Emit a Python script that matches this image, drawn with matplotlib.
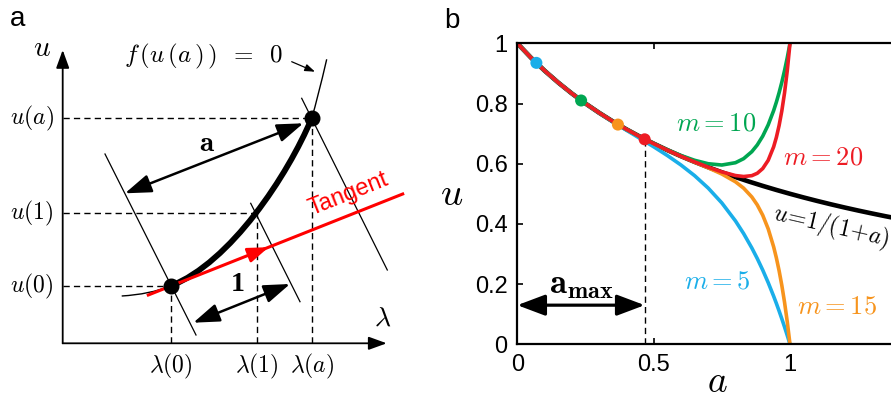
import matplotlib
matplotlib.use("Agg")
import matplotlib.pyplot as plt
from matplotlib.path import Path
from matplotlib.patches import PathPatch

plt.rcParams["font.family"] = ["Liberation Sans", "DejaVu Sans"]
plt.rcParams["mathtext.fontset"] = "cm"

# ---------- panel b data ----------
a_grid = [0.0, 0.05, 0.1, 0.15, 0.2, 0.25, 0.3, 0.35, 0.4, 0.45, 0.5, 0.55,
          0.6, 0.65, 0.7, 0.75, 0.8, 0.83, 0.86, 0.88, 0.9, 0.92, 0.94,
          0.95, 0.96, 0.97, 0.98, 0.99, 1.0]
u_m5 = [1.0, 0.9524, 0.9091, 0.8696, 0.8333, 0.7998, 0.7687, 0.7394, 0.7114,
        0.6839, 0.6563, 0.6273, 0.5958, 0.5604, 0.5190, 0.4697, 0.4099,
        0.3678, 0.3201, 0.2849, 0.2466, 0.2050, 0.1599, 0.1359, 0.1108,
        0.0848, 0.0577, 0.0294, 0.0]
u_m10 = [1.0, 0.9524, 0.9091, 0.8696, 0.8333, 0.8, 0.7692, 0.7407, 0.7143,
         0.6898, 0.6670, 0.6461, 0.6273, 0.6114, 0.5999, 0.5956, 0.6033,
         0.6168, 0.6400, 0.6623, 0.6915, 0.7290, 0.7764, 0.8045, 0.8358,
         0.8707, 0.9095, 0.9524, 1.0]
u_m15 = [1.0, 0.9524, 0.9091, 0.8696, 0.8333, 0.8, 0.7692, 0.7407, 0.7143,
         0.6897, 0.6667, 0.6451, 0.6248, 0.6054, 0.5863, 0.5657, 0.5399,
         0.5187, 0.4895, 0.4631, 0.4288, 0.3837, 0.3239, 0.2871, 0.2447,
         0.1958, 0.1395, 0.0746, 0.0]
u_m20 = [1.0, 0.9524, 0.9091, 0.8696, 0.8333, 0.8, 0.7692, 0.7407, 0.7143,
         0.6897, 0.6667, 0.6452, 0.6250, 0.6061, 0.5886, 0.5728, 0.5607,
         0.5574, 0.5603, 0.5682, 0.5839, 0.6112, 0.6560, 0.6875, 0.7267,
         0.7754, 0.8355, 0.9094, 1.0]
a_exact = [0.0, 0.05, 0.1, 0.15, 0.2, 0.25, 0.3, 0.35, 0.4, 0.45, 0.5, 0.55,
           0.6, 0.65, 0.7, 0.75, 0.8, 0.85, 0.9, 0.95, 1.0, 1.05, 1.1, 1.15,
           1.2, 1.25, 1.3, 1.35, 1.4]
u_exact = [1.0, 0.9524, 0.9091, 0.8696, 0.8333, 0.8, 0.7692, 0.7407, 0.7143,
           0.6897, 0.6667, 0.6452, 0.625, 0.6061, 0.5882, 0.5714, 0.5556,
           0.5405, 0.5263, 0.5128, 0.5, 0.4878, 0.4762, 0.4651, 0.4545,
           0.4444, 0.4348, 0.4255, 0.4167]
dot_a = [0.07, 0.234, 0.369, 0.467]
dot_u = [0.935, 0.810, 0.730, 0.681]
a_max = 0.467

c_blue, c_green, c_orange, c_red = "#1aaee9", "#00a651", "#f7941d", "#ed1c24"
dot_colors = [c_blue, c_green, c_orange, c_red]

# ---------- panel a schematic (arbitrary lambda / u units) ----------
# solution curve as Bezier pieces: lower tail, thick arc u(0)->u(a), upper tail
tail_lo = [(0.59, 0.473), (0.868, 0.489), (1.08, 0.573)]
arc = [(1.08, 0.573), (1.68, 0.81), (2.25, 1.68), (2.49, 2.25)]
tail_hi = [(2.49, 2.25), (2.55, 2.45), (2.64, 2.84)]
lam_marks = [1.08, 1.94, 2.49]        # lambda(0), lambda(1), lambda(a)
u_marks = [0.573, 1.30, 2.25]         # u(0), u(1), u(a)
lam_labels = [r"$\lambda(0)$", r"$\lambda(1)$", r"$\lambda(a)$"]
u_labels = [r"$u(0)$", r"$u(1)$", r"$u(a)$"]
normal_lam = [[0.423, 1.333], [1.88, 2.373], [2.39, 3.246]]
normal_u = [[1.893, 0.083], [1.40, 0.416], [2.45, 0.733]]
tangent_lam = [0.856, 3.40]
tangent_u = [0.483, 1.493]
lam_axis_end, u_axis_end = 3.24, 2.933

fig = plt.figure(figsize=(8.91, 4.01), dpi=100)

# ================= panel a =================
ax = fig.add_axes([0, 0, 440 / 891, 1])
ax.set_xlim(-0.627, 3.773)
ax.set_ylim(-0.577, 3.433)
ax.axis("off")

axis_arrow = dict(arrowstyle="-|>,head_length=0.55,head_width=0.2",
                  color="k", lw=1.3, mutation_scale=20, shrinkA=0, shrinkB=0)
ax.annotate("", xy=(lam_axis_end, 0), xytext=(0, 0), arrowprops=axis_arrow)
ax.annotate("", xy=(0, u_axis_end), xytext=(0, 0), arrowprops=axis_arrow)
ax.text(-0.21, 2.953, r"$u$", fontsize=21, ha="center", va="center")
ax.text(3.198, 0.243, r"$\lambda$", fontsize=20, ha="center", va="center")

for lam, u, lt, ut in zip(lam_marks, u_marks, lam_labels, u_labels):
    ax.plot([0, lam], [u, u], color="k", lw=1.0, dashes=(4.5, 3))
    ax.plot([lam, lam], [0, u], color="k", lw=1.0, dashes=(4.5, 3))
    ax.text(lam, -0.234, lt, fontsize=17, ha="center", va="center")
    ax.text(-0.09, u, ut, fontsize=17, ha="right", va="center")

for nl, nu in zip(normal_lam, normal_u):
    ax.plot(nl, nu, color="k", lw=0.9)

full_path = Path(tail_lo + arc[1:] + tail_hi[1:],
                 [Path.MOVETO, Path.CURVE3, Path.CURVE3,
                  Path.CURVE4, Path.CURVE4, Path.CURVE4,
                  Path.CURVE3, Path.CURVE3])
ax.add_patch(PathPatch(full_path, facecolor="none", edgecolor="k", lw=1.0))
arc_path = Path(arc, [Path.MOVETO, Path.CURVE4, Path.CURVE4, Path.CURVE4])
ax.add_patch(PathPatch(arc_path, facecolor="none", edgecolor="k", lw=4.2,
                       capstyle="round"))

ax.plot(tangent_lam, tangent_u, color="#ff0000", lw=2.2)
ax.annotate("", xy=(2.06, 0.961), xytext=(1.90, 0.898),
            arrowprops=dict(arrowstyle="-|>,head_length=0.7,head_width=0.25",
                            color="#ff0000", lw=2.0, mutation_scale=18,
                            shrinkA=0, shrinkB=0))
ax.text(2.86, 1.49, "Tangent", color="#ff0000", fontsize=17,
        rotation=21.7, rotation_mode="anchor", ha="center", va="center")

ax.plot([lam_marks[0], lam_marks[2]], [u_marks[0], u_marks[2]], "o",
        color="k", ms=10.5, zorder=6)

dbl_arrow = dict(arrowstyle="<|-|>,head_length=0.8,head_width=0.28",
                 color="k", lw=1.8, mutation_scale=20, shrinkA=0, shrinkB=0)
ax.annotate("", xy=(2.406, 2.20), xytext=(0.623, 1.50), arrowprops=dbl_arrow)
ax.text(1.44, 2.0, r"$\mathbf{a}$", fontsize=21, ha="center", va="center")
ax.annotate("", xy=(2.273, 0.593), xytext=(1.306, 0.206), arrowprops=dbl_arrow)
ax.text(1.746, 0.585, "1", fontsize=20, fontweight="bold",
        family="Liberation Serif", ha="center", va="center")

ax.text(1.413, 2.866, r"$f\,(u\,(a\,)\,)\;\;=\;\;0$", fontsize=18,
        ha="center", va="center")
ax.annotate("", xy=(2.523, 2.716), xytext=(2.29, 2.816),
            arrowprops=dict(arrowstyle="-|>,head_length=0.5,head_width=0.18",
                            color="k", lw=0.9, mutation_scale=12, shrinkA=0, shrinkB=0))

# ================= panel b =================
bx = fig.add_axes([517.3 / 891, (401 - 344.3) / 401, 1.4 * 272.7 / 891, 301 / 401])
bx.set_xlim(0, 1.4)
bx.set_ylim(0, 1)

bx.plot(a_exact, u_exact, color="k", lw=3.3)
bx.plot(a_grid, u_m5, color=c_blue, lw=2.6)
bx.plot(a_grid, u_m15, color=c_orange, lw=2.6)
bx.plot(a_grid, u_m10, color=c_green, lw=2.6)
bx.plot(a_grid, u_m20, color=c_red, lw=2.6)
bx.scatter(dot_a, dot_u, c=dot_colors, s=75, zorder=5, linewidths=0)

bx.plot([a_max, a_max], [0, dot_u[-1]], color="k", lw=1.0, dashes=(4.5, 3))
bx.annotate("", xy=(a_max, 0.13), xytext=(0, 0.13),
            arrowprops=dict(arrowstyle="<|-|>,head_length=0.85,head_width=0.32",
                            color="k", lw=2.3, mutation_scale=20, shrinkA=0, shrinkB=0))
bx.text(0.235, 0.20, r"$\mathbf{a}_{\mathbf{max}}$", fontsize=25,
        ha="center", va="center")

bx.text(0.729, 0.735, r"$m=10$", color=c_green, fontsize=19, ha="center", va="center")
bx.text(1.121, 0.622, r"$m=20$", color=c_red, fontsize=19, ha="center", va="center")
bx.text(0.734, 0.207, r"$m=5$", color=c_blue, fontsize=19, ha="center", va="center")
bx.text(1.174, 0.124, r"$m=15$", color=c_orange, fontsize=19, ha="center", va="center")
bx.text(1.15, 0.39, r"$u\!=\!1/(1\!+\!a)$", color="k", fontsize=17,
        rotation=-13, rotation_mode="anchor", ha="center", va="center")

bx.set_xticks([0, 0.5, 1])
bx.set_xticklabels(["0", "0.5", "1"])
bx.set_yticks([0, 0.2, 0.4, 0.6, 0.8, 1])
bx.set_yticklabels(["0", "0.2", "0.4", "0.6", "0.8", "1"])
bx.tick_params(direction="in", length=4, width=1.2, labelsize=17,
               top=True, right=True, pad=7)
for s in bx.spines.values():
    s.set_linewidth(1.6)
bx.set_xlabel(r"$a$", fontsize=27)
bx.xaxis.set_label_coords(0.733 / 1.4, -0.064)
bx.set_ylabel(r"$u$", fontsize=28, rotation=0, va="center")
bx.yaxis.set_label_coords(-0.172, 0.495)

fig.text(18 / 891, 1 - 19 / 401, "a", fontsize=20, ha="center", va="center")
fig.text(452 / 891, 1 - 21 / 401, "b", fontsize=20, ha="center", va="center")

fig.savefig("out.png", dpi=100)
